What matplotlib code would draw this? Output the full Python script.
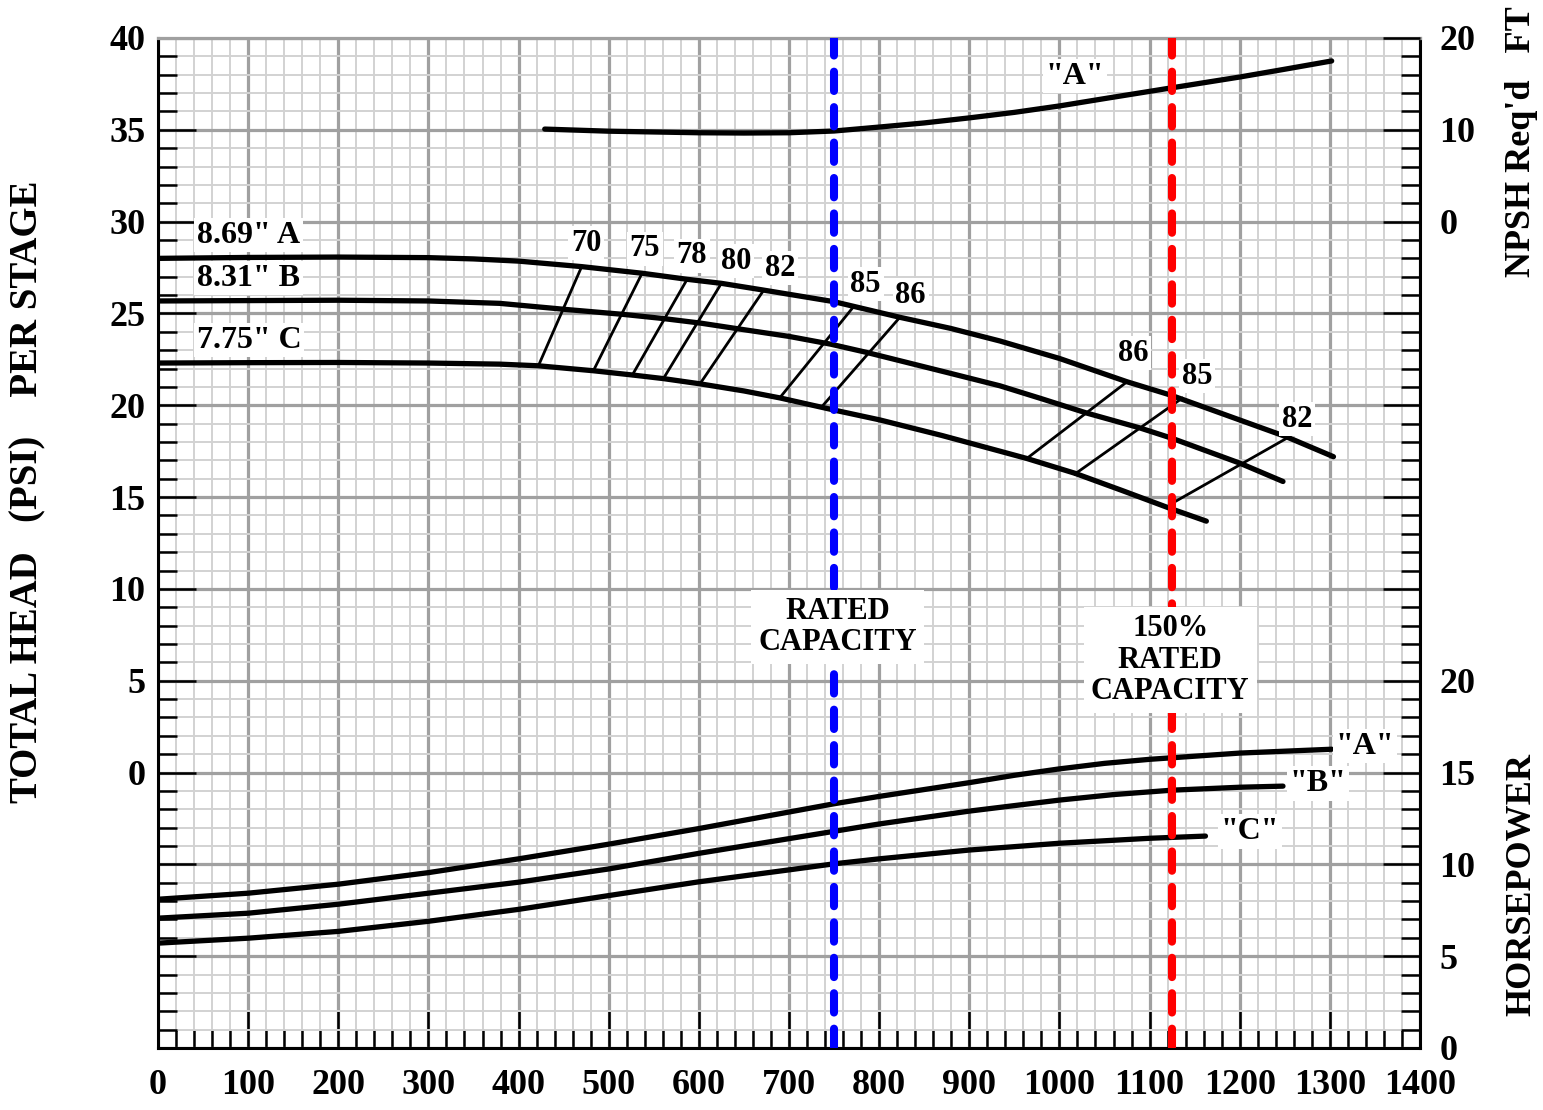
import matplotlib
matplotlib.use("Agg")
import matplotlib.pyplot as plt
from matplotlib.ticker import MultipleLocator, FixedLocator, FuncFormatter

plt.rcParams['font.family'] = ['Liberation Serif', 'DejaVu Serif']
plt.rcParams['font.weight'] = 'bold'

# head curves (GPM, PSI per stage)
head_a_x = [0, 100, 200, 300, 350, 400, 470, 537, 587, 625, 672, 750, 823, 879, 934, 1000, 1075, 1123, 1252, 1304]
head_a_y = [28.0, 28.05, 28.07, 28.04, 27.97, 27.85, 27.55, 27.19, 26.86, 26.64, 26.27, 25.64, 24.79, 24.19, 23.5, 22.55, 21.28, 20.56, 18.28, 17.2]
head_b_x = [0, 100, 200, 300, 379, 452, 516, 561, 601, 644, 700, 746, 786, 879, 934, 980, 1030, 1089, 1125, 1200, 1248]
head_b_y = [25.68, 25.7, 25.72, 25.68, 25.55, 25.22, 24.95, 24.72, 24.48, 24.16, 23.75, 23.33, 22.88, 21.74, 21.06, 20.36, 19.58, 18.77, 18.2, 16.85, 15.85]
head_c_x = [0, 100, 200, 300, 379, 422, 483, 526, 561, 601, 650, 690, 749, 801, 870, 934, 964, 1017, 1070, 1123, 1163]
head_c_y = [22.3, 22.32, 22.33, 22.3, 22.24, 22.15, 21.88, 21.65, 21.45, 21.17, 20.78, 20.4, 19.75, 19.2, 18.35, 17.5, 17.1, 16.3, 15.35, 14.38, 13.69]
head_labels = ['8.69" A', '8.31" B', '7.75" C']
head_label_y = [29.27, 26.93, 23.55]

# iso-efficiency lines
eff_labels = ['70', '75', '78', '80', '82', '85', '86', '86', '85', '82']
eff_top_x = [470, 537, 587, 625, 672, 771, 823, 1075, 1136, 1252]
eff_top_y = [27.55, 27.19, 26.86, 26.64, 26.27, 25.33, 24.79, 21.28, 20.38, 18.2]
eff_bot_x = [422, 483, 526, 561, 601, 690, 738, 964, 1017, 1126]
eff_bot_y = [22.15, 21.88, 21.63, 21.48, 21.15, 20.42, 20.01, 17.11, 16.25, 14.69]
eff_text_x = [475, 540, 592, 641, 690, 785, 835, 1082, 1153, 1264]
eff_text_y = [28.83, 28.51, 28.13, 27.85, 27.47, 26.6, 26.0, 22.84, 21.59, 19.25]

# NPSH required (ft)
npsh_x = [429, 500, 600, 650, 700, 750, 800, 850, 900, 950, 1000, 1050, 1123, 1200, 1250, 1302]
npsh_ft = [10.08, 9.85, 9.68, 9.65, 9.68, 9.87, 10.3, 10.75, 11.3, 11.9, 12.6, 13.4, 14.55, 15.75, 16.6, 17.5]

# horsepower curves
hp_a_x = [0, 100, 200, 300, 400, 500, 600, 700, 750, 800, 900, 950, 1000, 1050, 1100, 1200, 1302]
hp_a = [8.1, 8.43, 8.92, 9.55, 10.3, 11.1, 11.95, 12.85, 13.3, 13.7, 14.45, 14.85, 15.2, 15.5, 15.72, 16.06, 16.27]
hp_b_x = [0, 100, 200, 300, 400, 500, 600, 700, 750, 800, 900, 1000, 1060, 1125, 1200, 1248]
hp_b = [7.07, 7.34, 7.83, 8.43, 9.03, 9.75, 10.6, 11.4, 11.8, 12.2, 12.9, 13.5, 13.8, 14.04, 14.2, 14.26]
hp_c_x = [0, 100, 200, 300, 400, 500, 600, 700, 750, 800, 900, 1000, 1100, 1162]
hp_c = [5.71, 5.98, 6.35, 6.9, 7.55, 8.3, 9.05, 9.7, 10.03, 10.3, 10.78, 11.15, 11.42, 11.54]

rated_flow = 750
max_flow = 1125

fig = plt.figure(figsize=(15.43, 11.10), dpi=100)
ax = fig.add_axes([158 / 1543, 62 / 1110, 1262 / 1543, 1010 / 1110])
ax.set_xlim(0, 1400)
ax.set_ylim(-15, 40)

major_grey = '#a0a0a0'
ax.set_axisbelow(True)
ax.xaxis.set_major_locator(MultipleLocator(100))
ax.xaxis.set_minor_locator(MultipleLocator(20))
ax.yaxis.set_major_locator(MultipleLocator(5))
ax.yaxis.set_minor_locator(MultipleLocator(1))
ax.yaxis.set_major_formatter(FuncFormatter(lambda v, p: '%d' % v if v >= 0 else ''))
ax.grid(which='major', color=major_grey, lw=2.3)
ax.grid(which='minor', color='#d2d2d2', lw=1.4)
ax.tick_params(which='both', direction='in', width=1.8, color='black', labelsize=26)
ax.tick_params(which='major', length=27)
ax.tick_params(which='minor', length=13.5)
ax.tick_params(axis='y', pad=9)
ax.tick_params(axis='x', pad=15)
for s in ['left', 'bottom', 'right']:
    ax.spines[s].set_linewidth(2.2)
    ax.spines[s].set_color('black')
ax.spines['top'].set_color(major_grey)
ax.spines['top'].set_linewidth(2.3)

curve_kw = dict(color='black', lw=3.8, solid_capstyle='round', solid_joinstyle='round', zorder=3)
box = dict(facecolor='white', edgecolor='none', pad=2)

ax.plot(head_a_x, head_a_y, **curve_kw)
ax.plot(head_b_x, head_b_y, **curve_kw)
ax.plot(head_c_x, head_c_y, **curve_kw)
for lbl, yy in zip(head_labels, head_label_y):
    ax.text(43, yy, lbl, fontsize=23, fontweight='bold', ha='left', va='center', bbox=box, zorder=4)

for i in range(len(eff_labels)):
    ax.plot([eff_bot_x[i], eff_top_x[i]], [eff_bot_y[i], eff_top_y[i]], color='black', lw=2.0, zorder=3)
    ax.text(eff_text_x[i], eff_text_y[i], eff_labels[i], fontsize=22, fontweight='bold',
            ha='center', va='center', bbox=box, zorder=4)

# NPSH axis
ax_npsh = ax.twinx()
ax_npsh.set_ylim(-90, 20)
ax_npsh.yaxis.set_major_locator(FixedLocator([0, 10, 20]))
ax_npsh.tick_params(axis='y', length=0, pad=14, labelsize=26)
for s in ax_npsh.spines.values():
    s.set_visible(False)
ax_npsh.plot(npsh_x, npsh_ft, **curve_kw)
ax_npsh.text(1017, 15.86, '"A"', fontsize=23, fontweight='bold', ha='center', va='center', bbox=box, zorder=4)

# horsepower axis
ax_hp = ax.twinx()
ax_hp.set_ylim(0, 55)
ax_hp.yaxis.set_major_locator(MultipleLocator(5))
ax_hp.yaxis.set_minor_locator(MultipleLocator(1))
ax_hp.yaxis.set_major_formatter(FuncFormatter(lambda v, p: '%d' % v if v <= 20 else ''))
ax_hp.tick_params(which='both', direction='in', width=1.8, color='black', labelsize=26, pad=14)
ax_hp.tick_params(which='major', length=27)
ax_hp.tick_params(which='minor', length=13.5)
for s in ax_hp.spines.values():
    s.set_visible(False)
ax_hp.plot(hp_a_x, hp_a, **curve_kw)
ax_hp.plot(hp_b_x, hp_b, **curve_kw)
ax_hp.plot(hp_c_x, hp_c, **curve_kw)
ax_hp.text(1339, 16.44, '"A"', fontsize=23, fontweight='bold', ha='center', va='center', bbox=box, zorder=4)
ax_hp.text(1287, 14.42, '"B"', fontsize=23, fontweight='bold', ha='center', va='center', bbox=box, zorder=4)
ax_hp.text(1211, 11.81, '"C"', fontsize=23, fontweight='bold', ha='center', va='center', bbox=box, zorder=4)

# rated capacity markers
dash_kw = dict(lw=5.8, ls=(0, (2.4, 2.0)), dash_capstyle='round', zorder=5)
ax_hp.axvline(rated_flow, color='#0000ff', **dash_kw)
ax_hp.axvline(max_flow, color='#ff0000', **dash_kw)
ax_hp.text(754, 22.92, 'RATED\nCAPACITY', fontsize=22, fontweight='bold', ha='center', va='center',
           linespacing=1.1, bbox=dict(facecolor='white', edgecolor='none', pad=5), zorder=6)
ax_hp.text(1123, 21.12, '150%\nRATED\nCAPACITY', fontsize=22, fontweight='bold', ha='center', va='center',
           linespacing=1.1, bbox=dict(facecolor='white', edgecolor='none', pad=5), zorder=6)

fig.text(28 / 1543, 1 - 492 / 1110, 'TOTAL HEAD   (PSI)    PER STAGE', rotation=90, fontsize=28,
         fontweight='bold', ha='center', va='center')
fig.text(1522 / 1543, 1 - 142 / 1110, "NPSH Req'd   FT", rotation=90, fontsize=26,
         fontweight='bold', ha='center', va='center')
fig.text(1522 / 1543, 1 - 885 / 1110, 'HORSEPOWER', rotation=90, fontsize=26,
         fontweight='bold', ha='center', va='center')

fig.savefig('out.png', dpi=100)
